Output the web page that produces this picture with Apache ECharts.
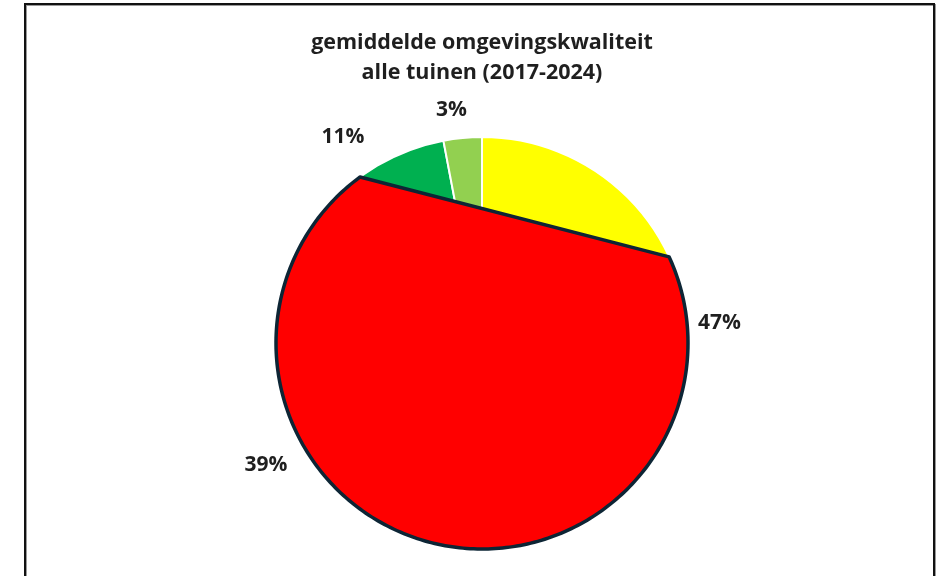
<!DOCTYPE html>
<html>
<head>
<meta charset="utf-8">
<script src="https://cdn.jsdelivr.net/npm/echarts@6/dist/echarts.min.js"></script>
<style>
    html, body { margin: 0; padding: 0; background: #fff; }
    #wrap { position: relative; width: 943px; height: 576px; overflow: hidden; }
    #main { position: absolute; left: 0; top: 0; width: 943px; height: 576px; }
    #frame {
        position: absolute; left: 24px; top: 3px; width: 907px; height: 620px;
        border: 2px solid #111; border-bottom: none; pointer-events: none;
        box-shadow: 1px 1px 0 #999, inset 1px 1px 0 #999;
    }
</style>
</head>
<body>
<div id="wrap">
    <div id="main"></div>
    <div id="frame"></div>
</div>
<script>
// gegevens uit de grafiek
var categories = ['geel', 'rood', 'groen', 'lichtgroen'];
var percentages = [47, 39, 11, 3];
var sliceColors = ['#ffff00', '#ff0000', '#00b050', '#92d050'];
// rode overlay: hoeken (graden vanaf 12 uur, met de klok mee) van de koorde
var overlayAngles = [65.3, 323.7];
// labelpositie per segment: [length, length2]
var labelLines = [[6, 0], [34, -17], [33, -9], [28, -12]];

var center = [482, 343];
var radius = 206;

var chartDom = document.getElementById('main');
var myChart = echarts.init(chartDom);
var option;

var pieData = categories.map(function (name, i) {
    return {
        name: name,
        value: percentages[i],
        itemStyle: { color: sliceColors[i] },
        labelLine: { show: false, length: labelLines[i][0], length2: labelLines[i][1] }
    };
});

option = {
    animation: false,
    title: {
        text: 'gemiddelde omgevingskwaliteit\nalle tuinen (2017-2024)',
        left: 477,
        textAlign: 'center',
        top: 23,
        textStyle: {
            fontFamily: 'Open Sans',
            fontSize: 21.5,
            fontWeight: 'bold',
            color: '#1f1f1f',
            lineHeight: 30
        }
    },
    polar: { center: center, radius: radius },
    angleAxis: { type: 'value', min: 0, max: 360, startAngle: 90, clockwise: true, show: false },
    radiusAxis: { type: 'value', min: 0, max: 1, show: false },
    series: [
        {
            name: 'omgevingskwaliteit',
            type: 'pie',
            z: 2,
            center: center,
            radius: radius,
            startAngle: 90,
            avoidLabelOverlap: false,
            itemStyle: { borderColor: '#ffffff', borderWidth: 2 },
            label: {
                show: true,
                position: 'outside',
                formatter: '{c}%',
                fontFamily: 'Open Sans',
                fontSize: 21,
                fontWeight: 'bold',
                color: '#1f1f1f'
            },
            emphasis: { disabled: true },
            data: pieData
        },
        {
            // rood segment met donkere rand over de taart
            type: 'custom',
            coordinateSystem: 'polar',
            z: 10,
            silent: true,
            data: [[1, overlayAngles[0], overlayAngles[1]]],
            renderItem: function (params, api) {
                var a1 = api.value(1);
                var a2 = api.value(2);
                var pts = [];
                for (var a = a1; a < a2; a += 1) {
                    pts.push(api.coord([1, a]));
                }
                pts.push(api.coord([1, a2]));
                return {
                    type: 'polygon',
                    z2: 100,
                    shape: { points: pts },
                    style: { fill: '#ff0000', stroke: '#0d2535', lineWidth: 3.5, lineJoin: 'round' }
                };
            }
        }
    ]
};

option && myChart.setOption(option);
</script>
</body>
</html>
